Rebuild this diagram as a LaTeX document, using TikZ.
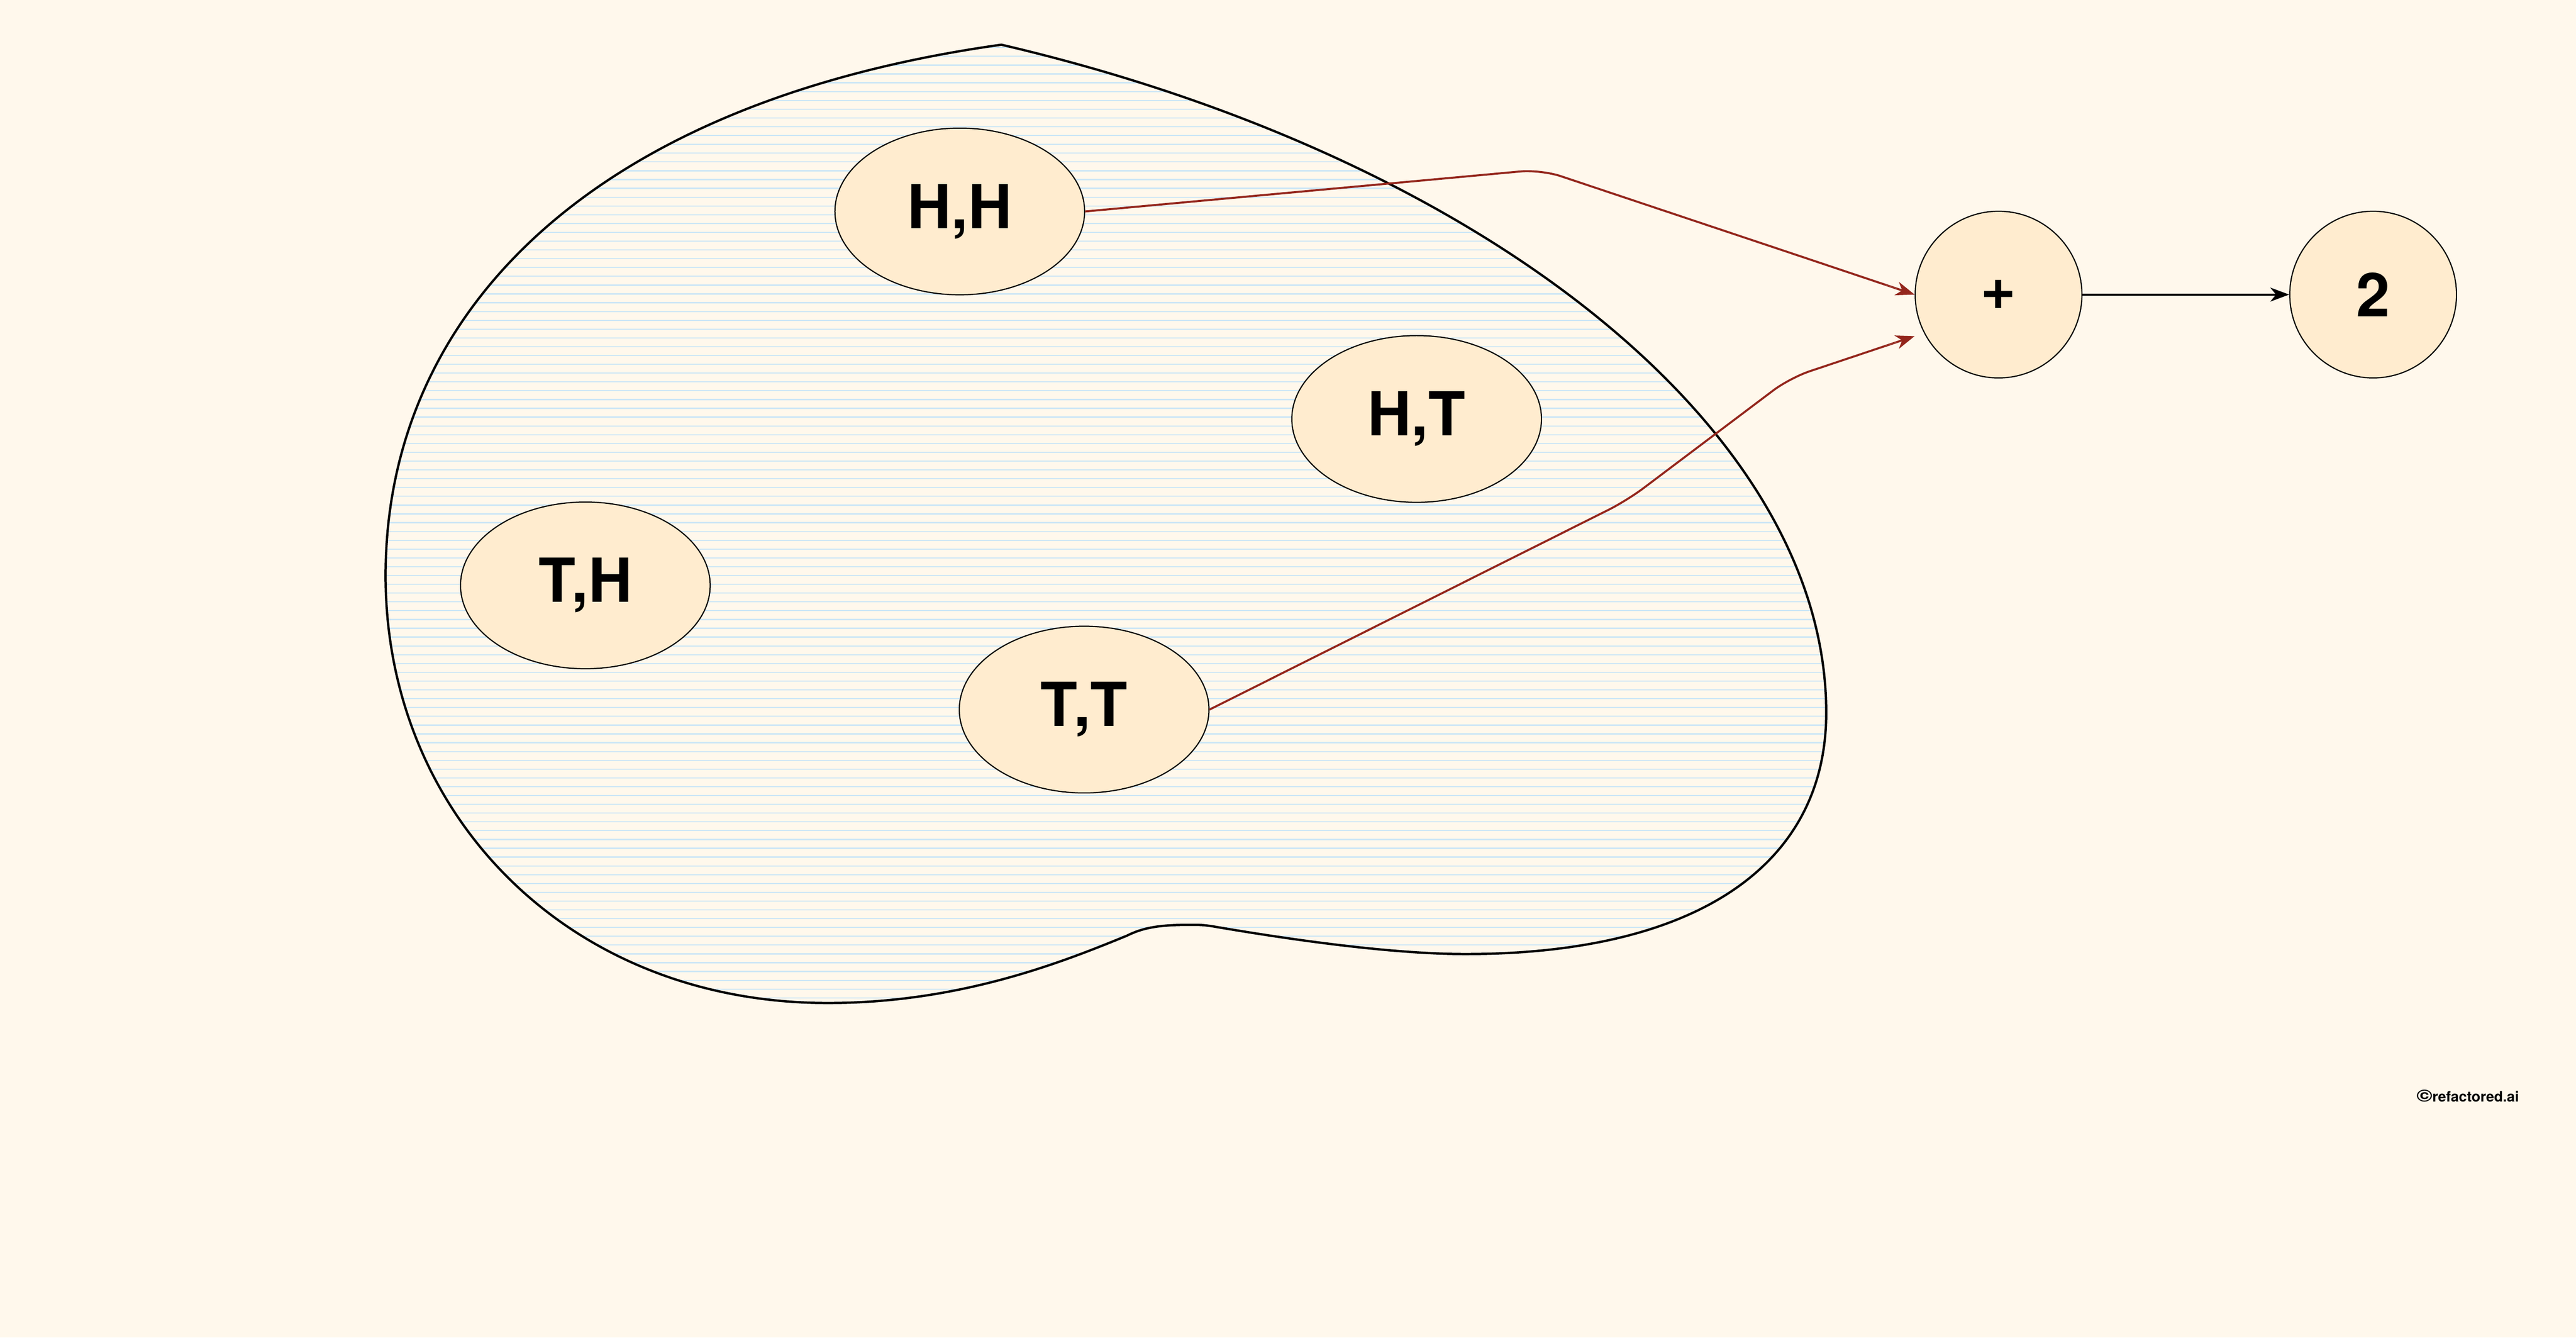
\documentclass[tikz,border=0pt]{standalone}
\usepackage{fontspec}
\setmainfont{TeX Gyre Heros}
\usetikzlibrary{arrows.meta,shapes.geometric}

% Colours of the sample-space sketch
\definecolor{bgcream}{RGB}{255,248,236}
\definecolor{outcomefill}{RGB}{255,236,207}
\definecolor{hatchblue}{RGB}{204,230,246}
\definecolor{maproad}{RGB}{148,38,28}

\tikzset{
  outcome/.style={ellipse, draw, line width=0.4pt, fill=outcomefill,
    minimum width=3.04cm, minimum height=2.03cm, inner sep=0pt,
    font=\bfseries\fontsize{21}{25}\selectfont},
  valnode/.style={circle, draw, line width=0.4pt, fill=outcomefill,
    minimum size=2.03cm, inner sep=0pt,
    font=\bfseries\fontsize{21}{25}\selectfont},
  maparrow/.style={color=maproad, line width=0.7pt, rounded corners=0.25cm,
    -{Rectangle[length=1.4mm, width=0pt, line width=0pt, color=bgcream]
      Stealth[length=2.3mm, width=1.7mm, inset=0.7mm]}},
  sumarrow/.style={line width=0.7pt, -{Stealth[length=2.3mm, width=1.7mm, inset=0.7mm]}},
  hatch/.style={hatchblue, line width=0.4pt},
}

% Outline of the sample space
\def\samplespace{(609.5,27.2) .. controls (900,95) and (1111.6,260) .. (1111.6,433.8)
  .. controls (1111.6,525.8) and (1033.9,580.7) .. (891.9,580.7)
  .. controls (841.9,580.7) and (773,569.8) .. (738,563.8)
  .. controls (732,562.9) and (730,562.9) .. (724.6,562.9)
  .. controls (706,562.9) and (696,564.5) .. (686,569.5)
  .. controls (646,585.9) and (583.9,610.5) .. (503.9,610.5)
  .. controls (345,610.5) and (234.7,495) .. (234.7,350.4)
  .. controls (234.7,190.4) and (359.5,62.2) .. (609.5,27.2) -- cycle}

\begin{document}
\begin{tikzpicture}[x=0.02cm, y=-0.02cm]
    % Canvas
    \fill[bgcream] (0,0) rectangle (1568,814.2);
    \useasboundingbox (0,0) rectangle (1568,814.2);

    % --- Sample space: hatched blob ---
    \begin{scope}
        \clip \samplespace;
        \foreach \k in {0,...,109}
            \draw[hatch] (220,{28.93+\k*5.356}) -- (1125,{28.93+\k*5.356});
    \end{scope}
    \draw[line width=0.8pt, line join=round] \samplespace;

    % Outcomes
    \node[outcome] (hh) at (584.2,128.7) {H,H};
    \node[outcome] (ht) at (862.3,255) {H,T};
    \node[outcome] (th) at (356.3,356.3) {T,H};
    \node[outcome] (tt) at (659.9,431.9) {T,T};

    % --- Random variable: sum and its value ---
    \node[valnode] (plus) at (1216.5,179.3) {+};
    \node[valnode] (two) at (1444.5,179.3) {2};

    % Mapping arrows
    \draw[maparrow] (hh.east) -- (938,103.2) -- (1090.6,154.2) -- (plus.west);
    \draw[maparrow] (tt.east) -- (990.3,304.7) -- (1089.5,230) -- ([yshift=-0.506cm]plus.west);
    \draw[sumarrow] (plus) -- (two);

    % Credit
    \node[anchor=base west, inner sep=0pt, font=\bfseries\fontsize{5}{6}\selectfont]
        (credit) at (1470.5,670.5) {\scalebox{1.25}[1]{\fontsize{6}{7}\selectfont\textcopyright}refactored.ai};
\end{tikzpicture}
\end{document}
